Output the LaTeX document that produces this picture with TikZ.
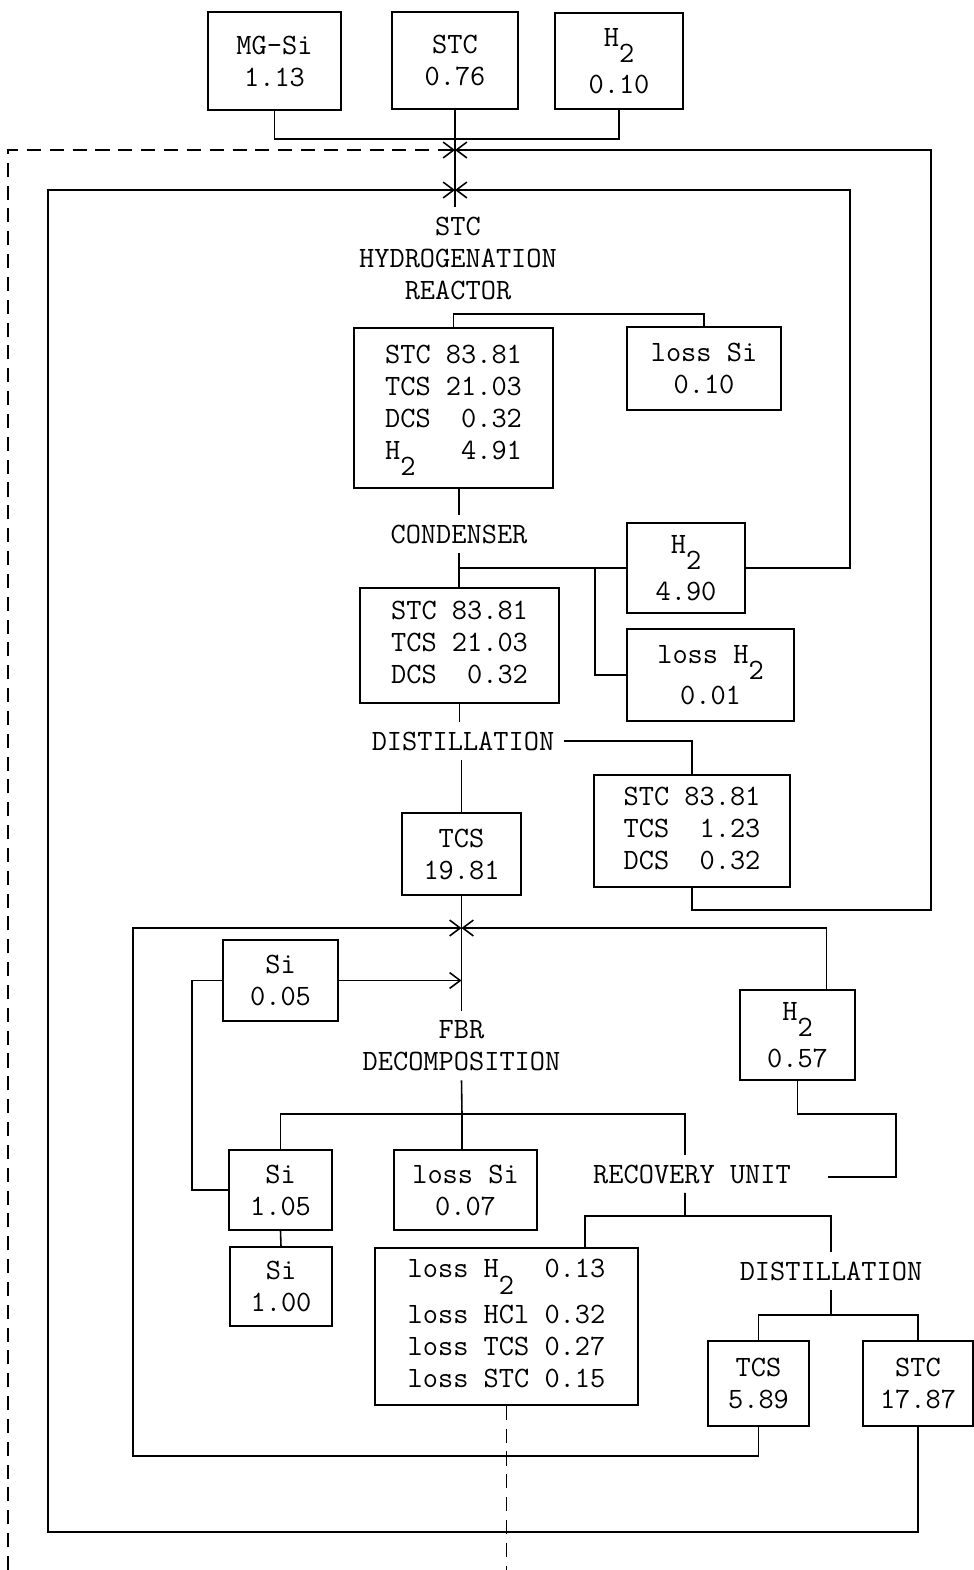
\documentclass[tikz,border=0pt]{standalone}
\usepackage{fontspec}
\usetikzlibrary{arrows.meta}
\newcommand{\Htwo}{H\raisebox{-0.55em}{2}}

\begin{document}
\begin{tikzpicture}[x=0.02cm,y=-0.02cm,line width=0.9pt,>={Straight Barb[length=6pt,width=9pt]},
  every node/.style={font=\ttfamily\fontsize{16.8pt}{18.2pt}\selectfont},
  blk/.style 2 args={draw,align=center,inner sep=0pt,minimum width=#1*0.02cm,minimum height=#2*0.02cm},
  lbl/.style={align=center,inner sep=5pt},
  loopdash/.style={dash pattern=on 8pt off 5pt}]
\useasboundingbox (0,0) rectangle (974,1570);
% feeds
\node[blk={133}{98}] (mgsi) at (274.5,61) {MG-Si\\1.13};
\node[blk={126}{97}] (stcin) at (455,60.5) {STC\\0.76};
\node[blk={128}{96}] (hin) at (619,61) {\Htwo\\[6pt]0.10};
\coordinate (feed) at (455,139);
\coordinate (ja) at (455,150);
\coordinate (jb) at (455,190);
\draw (mgsi.south) |- (feed) -| (hin.south);
% hydrogenation
\node[lbl] (hydro) at (458,258) {STC\\HYDROGENATION\\REACTOR};
\draw (stcin.south) -- (stcin.south |- hydro.north);
\node[blk={199}{160}] (mix1) at (453.5,408) {\begin{tabular}{@{}l@{\ }r@{}}STC&83.81\\TCS&21.03\\DCS&0.32\\\Htwo&4.91\end{tabular}};
\node[blk={154}{83}] (losssi1) at (704,368.5) {loss Si\\0.10};
\draw (mix1.north) -- ++(0,-13) -| (losssi1.north);
% condenser
\node[lbl] (cond) at (459,534) {CONDENSER};
\draw (mix1.south -| cond.north) -- (cond.north);
\node[blk={199}{115}] (mix2) at (459.5,645.5) {\begin{tabular}{@{}l@{\ }r@{}}STC&83.81\\TCS&21.03\\DCS&0.32\end{tabular}};
\draw (cond.south) -- (cond.south |- mix2.north);
\node[blk={118}{90}] (h2b) at (686,568) {\Htwo\\[6pt]4.90};
\node[blk={167}{92}] (lossh) at (710.5,675) {loss \Htwo\\[3pt]0.01};
\coordinate (cj) at (595,568);
\coordinate (rtop) at (850,190);
\draw (h2b.west) -- (h2b.west -| cond.south);
\draw (lossh.west) -| (cj);
\draw[->] (h2b.east) -| (rtop) -- (jb);
% distillation
\node[lbl] (dist1) at (463,741) {DISTILLATION};
\draw (mix2.south) -- (mix2.south |- dist1.north);
\node[blk={196}{112}] (res) at (692,831) {\begin{tabular}{@{}l@{\ }r@{}}STC&83.81\\TCS&1.23\\DCS&0.32\end{tabular}};
\draw (dist1.east) -| (res.north);
\node[blk={119}{82}] (tcs1) at (461.5,854) {TCS\\19.81};
\draw (tcs1.north |- dist1.south) -- (tcs1.north);
\coordinate (rr) at (931,910);
\draw[->] (res.south) |- (rr) |- (ja);
% FBR
\coordinate (jc) at (461.5,928);
\node[lbl] (fbr) at (461.5,1045.5) {FBR\\DECOMPOSITION};
\draw (tcs1.south) -- (fbr.north);
\node[blk={115}{81}] (si005) at (280.5,980.5) {Si\\0.05};
\draw[->] (si005.east) -- (si005.east -| jc);
\node[blk={103}{80}] (si105) at (280.5,1190) {Si\\1.05};
\draw (si005.west) -- ++(-30,0) |- (si105.west);
\node[blk={102}{79}] (si100) at (281,1286.5) {Si\\1.00};
\draw (si105.south) -- (si100.north);
\node[blk={143}{80}] (losssi2) at (465.5,1190) {loss Si\\0.07};
\node[lbl] (recov) at (692,1174) {RECOVERY UNIT};
\coordinate (fj) at (462,1114);
\draw (fbr.south) -- (fj);
\draw (si105.north) |- (fj) -| ([xshift=-0.14cm]recov.north);
\draw (fj) -- (fj |- losssi2.north);
\node[blk={115}{90}] (h2c) at (797.5,1035) {\Htwo\\[6pt]0.57};
\draw[->] ([xshift=0.58cm]h2c.north) |- (jc);
\coordinate (rcin) at (828,1177);
\draw (h2c.south) -- ++(0,33) -| (896,1177) -- (rcin);
% recovery
\node[blk={263}{157}] (lossb) at (506.5,1326.5) {\begin{tabular}{@{}l@{\ }l@{}}loss \Htwo&0.13\\[8pt]loss HCl&0.32\\loss TCS&0.27\\loss STC&0.15\end{tabular}};
\node[lbl] (dist2) at (831,1271) {DISTILLATION};
\coordinate (rj) at (685,1216);
\draw ([xshift=-0.14cm]recov.south) -- (rj);
\draw ([xshift=1.57cm]lossb.north) |- (rj) -| (dist2.north);
\node[blk={101}{85}] (tcs2) at (758.5,1383.5) {TCS\\5.89};
\node[blk={110}{85}] (stc2) at (918,1383.5) {STC\\17.87};
\coordinate (dj) at (831,1315);
\draw (dist2.south) -- (dj);
\draw (tcs2.north) |- (dj) -| (stc2.north);
% recycle loops
\coordinate (lb) at (133,1456);
\coordinate (lo) at (48,1532);
\coordinate (dl) at (8,1570);
\draw[->] (tcs2.south) |- (lb) |- (jc);
\draw[->] (stc2.south) |- (lo) |- (jb);
\draw[loopdash] (lossb.south) -- ++(0,165);
\draw[loopdash,->] (dl) |- (ja);
\end{tikzpicture}
\end{document}
